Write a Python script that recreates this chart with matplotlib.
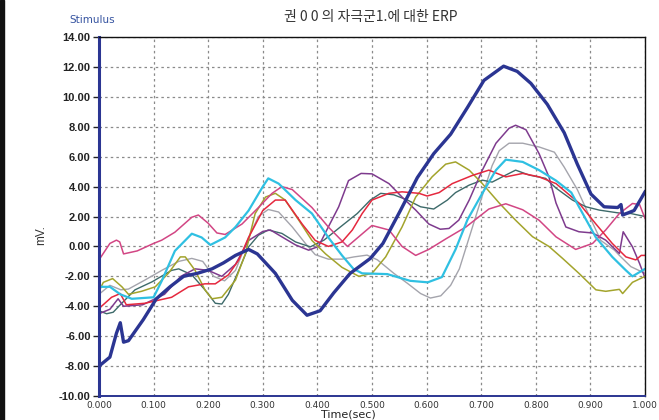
import numpy as np
import matplotlib
matplotlib.use("Agg")
import matplotlib.pyplot as plt
from matplotlib.patches import Rectangle

plt.rcParams['font.family'] = ['Liberation Sans', 'DejaVu Sans']

TITLE  = "권 0 0 의 자극군1.에 대한 ERP"
XTICKS = [i / 10 for i in range(11)]
YTICKS = list(range(-10, 15, 2))

## each trace: (time, mV)
navy_t = [0, 0.02, 0.032, 0.039, 0.045, 0.054, 0.081, 0.105, 0.13, 0.155, 0.18, 0.207, 0.228, 0.25, 0.274, 0.29,
          0.323, 0.354, 0.381, 0.405, 0.43, 0.46, 0.497, 0.52, 0.552, 0.583, 0.613, 0.644, 0.675, 0.705, 0.741,
          0.766, 0.791, 0.821, 0.852, 0.876, 0.901, 0.925, 0.95, 0.956, 0.959, 0.98, 1.0]
navy_v = [-8.0, -7.4, -5.8, -5.1, -6.4, -6.3, -4.9, -3.5, -2.7, -2.0, -1.8, -1.5, -1.1, -0.6, -0.2, -0.5,
          -1.8, -3.6, -4.6, -4.3, -3.1, -1.8, -0.8, 0.2, 2.4, 4.6, 6.2, 7.5, 9.3, 11.1, 12.05,
          11.7, 10.9, 9.5, 7.6, 5.5, 3.5, 2.65, 2.6, 2.8, 2.1, 2.4, 3.65]

cyan_t = [0, 0.02, 0.039, 0.06, 0.1, 0.115, 0.139, 0.17, 0.188, 0.204, 0.231, 0.25, 0.274, 0.3, 0.31, 0.329,
          0.36, 0.39, 0.42, 0.445, 0.466, 0.482, 0.528, 0.57, 0.602, 0.628, 0.653, 0.675, 0.702, 0.727, 0.745,
          0.776, 0.806, 0.837, 0.865, 0.879, 0.91, 0.94, 0.965, 0.977, 1.0]
cyan_v = [-2.7, -2.7, -3.2, -3.5, -3.4, -2.3, -0.3, 0.85, 0.6, 0.1, 0.6, 1.3, 2.4, 4.0, 4.55, 4.2,
          3.1, 2.2, 0.6, -0.6, -1.5, -1.8, -1.85, -2.3, -2.4, -2.05, -0.2, 1.8, 3.55, 5.1, 5.8,
          5.65, 5.1, 4.4, 3.6, 2.65, 0.6, -0.7, -1.6, -2.0, -1.5]

pink_t = [0, 0.02, 0.032, 0.038, 0.045, 0.07, 0.1, 0.115, 0.139, 0.17, 0.182, 0.2, 0.216, 0.231, 0.262, 0.292,
          0.317, 0.335, 0.354, 0.39, 0.42, 0.455, 0.5, 0.531, 0.555, 0.58, 0.604, 0.635, 0.672, 0.714, 0.745,
          0.776, 0.806, 0.837, 0.873, 0.904, 0.928, 0.953, 0.977, 0.99, 1.0]
pink_v = [-0.9, 0.2, 0.42, 0.3, -0.5, -0.3, 0.2, 0.42, 0.95, 1.95, 2.1, 1.55, 0.9, 0.8, 1.5, 2.6,
          3.55, 4.0, 3.8, 2.6, 1.3, 0.0, 1.4, 1.1, 0.0, -0.6, -0.2, 0.5, 1.3, 2.5, 2.85,
          2.45, 1.75, 0.64, -0.2, 0.2, 1.1, 2.2, 2.87, 2.8, 1.87]

olive_t = [0, 0.008, 0.025, 0.042, 0.054, 0.078, 0.103, 0.127, 0.149, 0.158, 0.176, 0.194, 0.207, 0.225, 0.25,
           0.268, 0.286, 0.305, 0.323, 0.341, 0.366, 0.39, 0.415, 0.445, 0.476, 0.5, 0.525, 0.555, 0.58, 0.61,
           0.635, 0.653, 0.678, 0.702, 0.733, 0.763, 0.794, 0.824, 0.849, 0.879, 0.91, 0.928, 0.953, 0.959,
           0.977, 1.0]
olive_v = [-3.0, -2.4, -2.15, -2.7, -3.2, -3.0, -2.7, -1.8, -0.7, -0.7, -1.6, -2.9, -3.5, -3.4, -2.25,
           -0.5, 2.2, 3.3, 3.55, 3.1, 1.75, 0.4, -0.5, -1.4, -2.0, -1.8, -0.7, 1.3, 3.3, 4.65,
           5.5, 5.65, 5.1, 4.2, 2.9, 1.75, 0.65, 0.0, -0.8, -1.8, -2.9, -3.0, -2.87, -3.15,
           -2.4, -2.0]

red_t = [0, 0.023, 0.039, 0.05, 0.084, 0.133, 0.164, 0.194, 0.213, 0.237, 0.256, 0.274, 0.3, 0.323, 0.341,
         0.372, 0.396, 0.42, 0.445, 0.464, 0.482, 0.5, 0.531, 0.555, 0.586, 0.601, 0.623, 0.647, 0.684, 0.714,
         0.745, 0.776, 0.806, 0.837, 0.879, 0.91, 0.94, 0.965, 0.983, 0.993, 1.0]
red_v = [-4.15, -3.4, -3.15, -3.9, -3.8, -3.4, -2.7, -2.5, -2.5, -1.9, -0.9, 0.6, 2.4, 3.1, 3.1,
         1.5, 0.4, 0.0, 0.3, 1.1, 2.2, 3.1, 3.55, 3.65, 3.55, 3.37, 3.6, 4.2, 4.75, 5.1,
         4.65, 4.88, 4.65, 4.2, 2.9, 1.5, 0.2, -0.7, -0.9, -0.6, -0.6]

purple_t = [0, 0.02, 0.035, 0.045, 0.08, 0.12, 0.15, 0.176, 0.2, 0.225, 0.25, 0.274, 0.3, 0.314, 0.335, 0.36,
            0.384, 0.402, 0.42, 0.439, 0.457, 0.48, 0.5, 0.531, 0.555, 0.58, 0.604, 0.625, 0.641, 0.659, 0.678,
            0.702, 0.727, 0.751, 0.763, 0.782, 0.806, 0.824, 0.837, 0.855, 0.879, 0.904, 0.928, 0.953, 0.96,
            0.977, 0.99, 1.0]
purple_v = [-4.5, -4.2, -3.5, -4.0, -3.9, -3.2, -2.0, -1.5, -1.6, -2.0, -1.2, 0.4, 1.0, 1.1, 0.64, 0.1,
            -0.25, 0.0, 1.3, 2.65, 4.4, 4.88, 4.85, 4.2, 3.3, 2.43, 1.5, 1.15, 1.2, 1.76, 3.1,
            5.1, 6.9, 7.9, 8.1, 7.8, 6.2, 4.65, 2.9, 1.3, 0.98, 0.9, 0.42, -0.47, 0.98,
            -0.03, -1.14, -2.1]

gray_t = [0, 0.02, 0.04, 0.054, 0.084, 0.115, 0.146, 0.17, 0.19, 0.21, 0.23, 0.25, 0.274, 0.292, 0.31, 0.329,
          0.354, 0.378, 0.396, 0.42, 0.445, 0.467, 0.491, 0.51, 0.54, 0.565, 0.589, 0.607, 0.626, 0.644, 0.66,
          0.678, 0.702, 0.72, 0.733, 0.751, 0.776, 0.806, 0.834, 0.852, 0.876, 0.901, 0.919, 0.944, 0.953,
          0.974, 1.0]
gray_v = [-3.2, -2.6, -2.9, -2.85, -2.25, -1.6, -1.0, -0.8, -1.0, -2.0, -2.3, -1.6, 0.6, 2.0, 2.47, 2.3,
          1.3, 0.2, -0.55, -0.85, -0.85, -0.7, -0.58, -0.9, -1.8, -2.47, -3.15, -3.45, -3.3, -2.6, -1.5,
          0.6, 3.4, 5.4, 6.4, 6.9, 6.9, 6.65, 6.3, 5.3, 3.8, 1.8, 0.4, -0.25, -0.6,
          -1.35, -1.8]

teal_t = [0, 0.014, 0.026, 0.039, 0.066, 0.097, 0.133, 0.146, 0.17, 0.194, 0.213, 0.225, 0.237, 0.256, 0.274,
          0.292, 0.31, 0.335, 0.36, 0.387, 0.412, 0.442, 0.473, 0.497, 0.516, 0.54, 0.565, 0.589, 0.613, 0.638,
          0.653, 0.678, 0.702, 0.72, 0.745, 0.763, 0.788, 0.818, 0.837, 0.867, 0.892, 0.916, 0.94, 0.959,
          0.974, 1.0]
teal_v = [-4.3, -4.5, -4.4, -3.9, -2.9, -2.37, -1.6, -1.5, -1.9, -2.9, -3.8, -3.85, -3.2, -1.6, -0.03,
          0.75, 1.1, 0.87, 0.3, -0.03, 0.42, 1.3, 2.2, 3.1, 3.55, 3.45, 3.1, 2.65, 2.5, 3.1,
          3.6, 4.1, 4.43, 4.3, 4.77, 5.1, 4.77, 4.55, 3.9, 3.1, 2.65, 2.43, 2.3, 2.2,
          2.2, 2.0]

SERIES = [
    (gray_t, gray_v, "#a4a4ac", 1.0),
    (teal_t, teal_v, "#3d6a6a", 1.0),
    (purple_t, purple_v, "#7e3b8e", 1.1),
    (olive_t, olive_v, "#a3a42c", 1.1),
    (pink_t, pink_v, "#d24684", 1.1),
    (red_t, red_v, "#e5283e", 1.1),
    (cyan_t, cyan_v, "#2fc0e2", 1.6),
    (navy_t, navy_v, "#2b3592", 2.4),
]

fig = plt.figure(figsize=(6.59, 4.20), dpi=100)
ax = fig.add_axes([0.1502, 0.0571, 0.8286, 0.8548])

for t, v, c, lw in SERIES:
    ax.plot(t, v, color=c, lw=lw, solid_joinstyle='round')

ax.set_xlim(0, 1.0); ax.set_ylim(-10, 14)
ax.set_xticks(XTICKS); ax.set_yticks(YTICKS)
ax.set_xticklabels([f"{x:.3f}" for x in XTICKS], fontsize=6.5, family='DejaVu Sans', color="#333333")
ax.set_yticklabels([f"{y:.2f}" for y in YTICKS], fontsize=8, fontweight='bold', color="#222222")
ax.tick_params(axis='x', length=0, pad=3.5)
ax.tick_params(axis='y', length=4, width=1, direction='out', pad=2, color="#222222")

ax.grid(True, color="#8a8a8a", lw=0.9, linestyle=(0, (2, 2.5)))
ax.set_axisbelow(True)
for side in ['top', 'right']:
    ax.spines[side].set_color("#111111"); ax.spines[side].set_linewidth(1.0)
ax.spines['left'].set_color("#2b3592"); ax.spines['left'].set_linewidth(2.2)
ax.spines['bottom'].set_color("#2b3592"); ax.spines['bottom'].set_linewidth(1.4)

fig.text(0.528, 0.013, "Time(sec)", fontsize=8, color="#222222", ha='center', va='center',
         family='DejaVu Sans')
fig.text(0.062, 0.44, "mV.", rotation=90, fontsize=8.5, color="#333333", ha='center', va='center')
fig.text(0.562, 0.96, TITLE, fontsize=10, color="#333333", ha='center', va='center',
         family=['Noto Sans CJK KR', 'DejaVu Sans'])
fig.text(0.140, 0.952, "Stimulus", fontsize=7.5, color="#3553a0", ha='center', va='center',
         family='DejaVu Sans')

fig.patches.append(Rectangle((0, 0), 0.006, 1, transform=fig.transFigure, color="#111111", zorder=0))

fig.savefig("out.png", dpi=100)
